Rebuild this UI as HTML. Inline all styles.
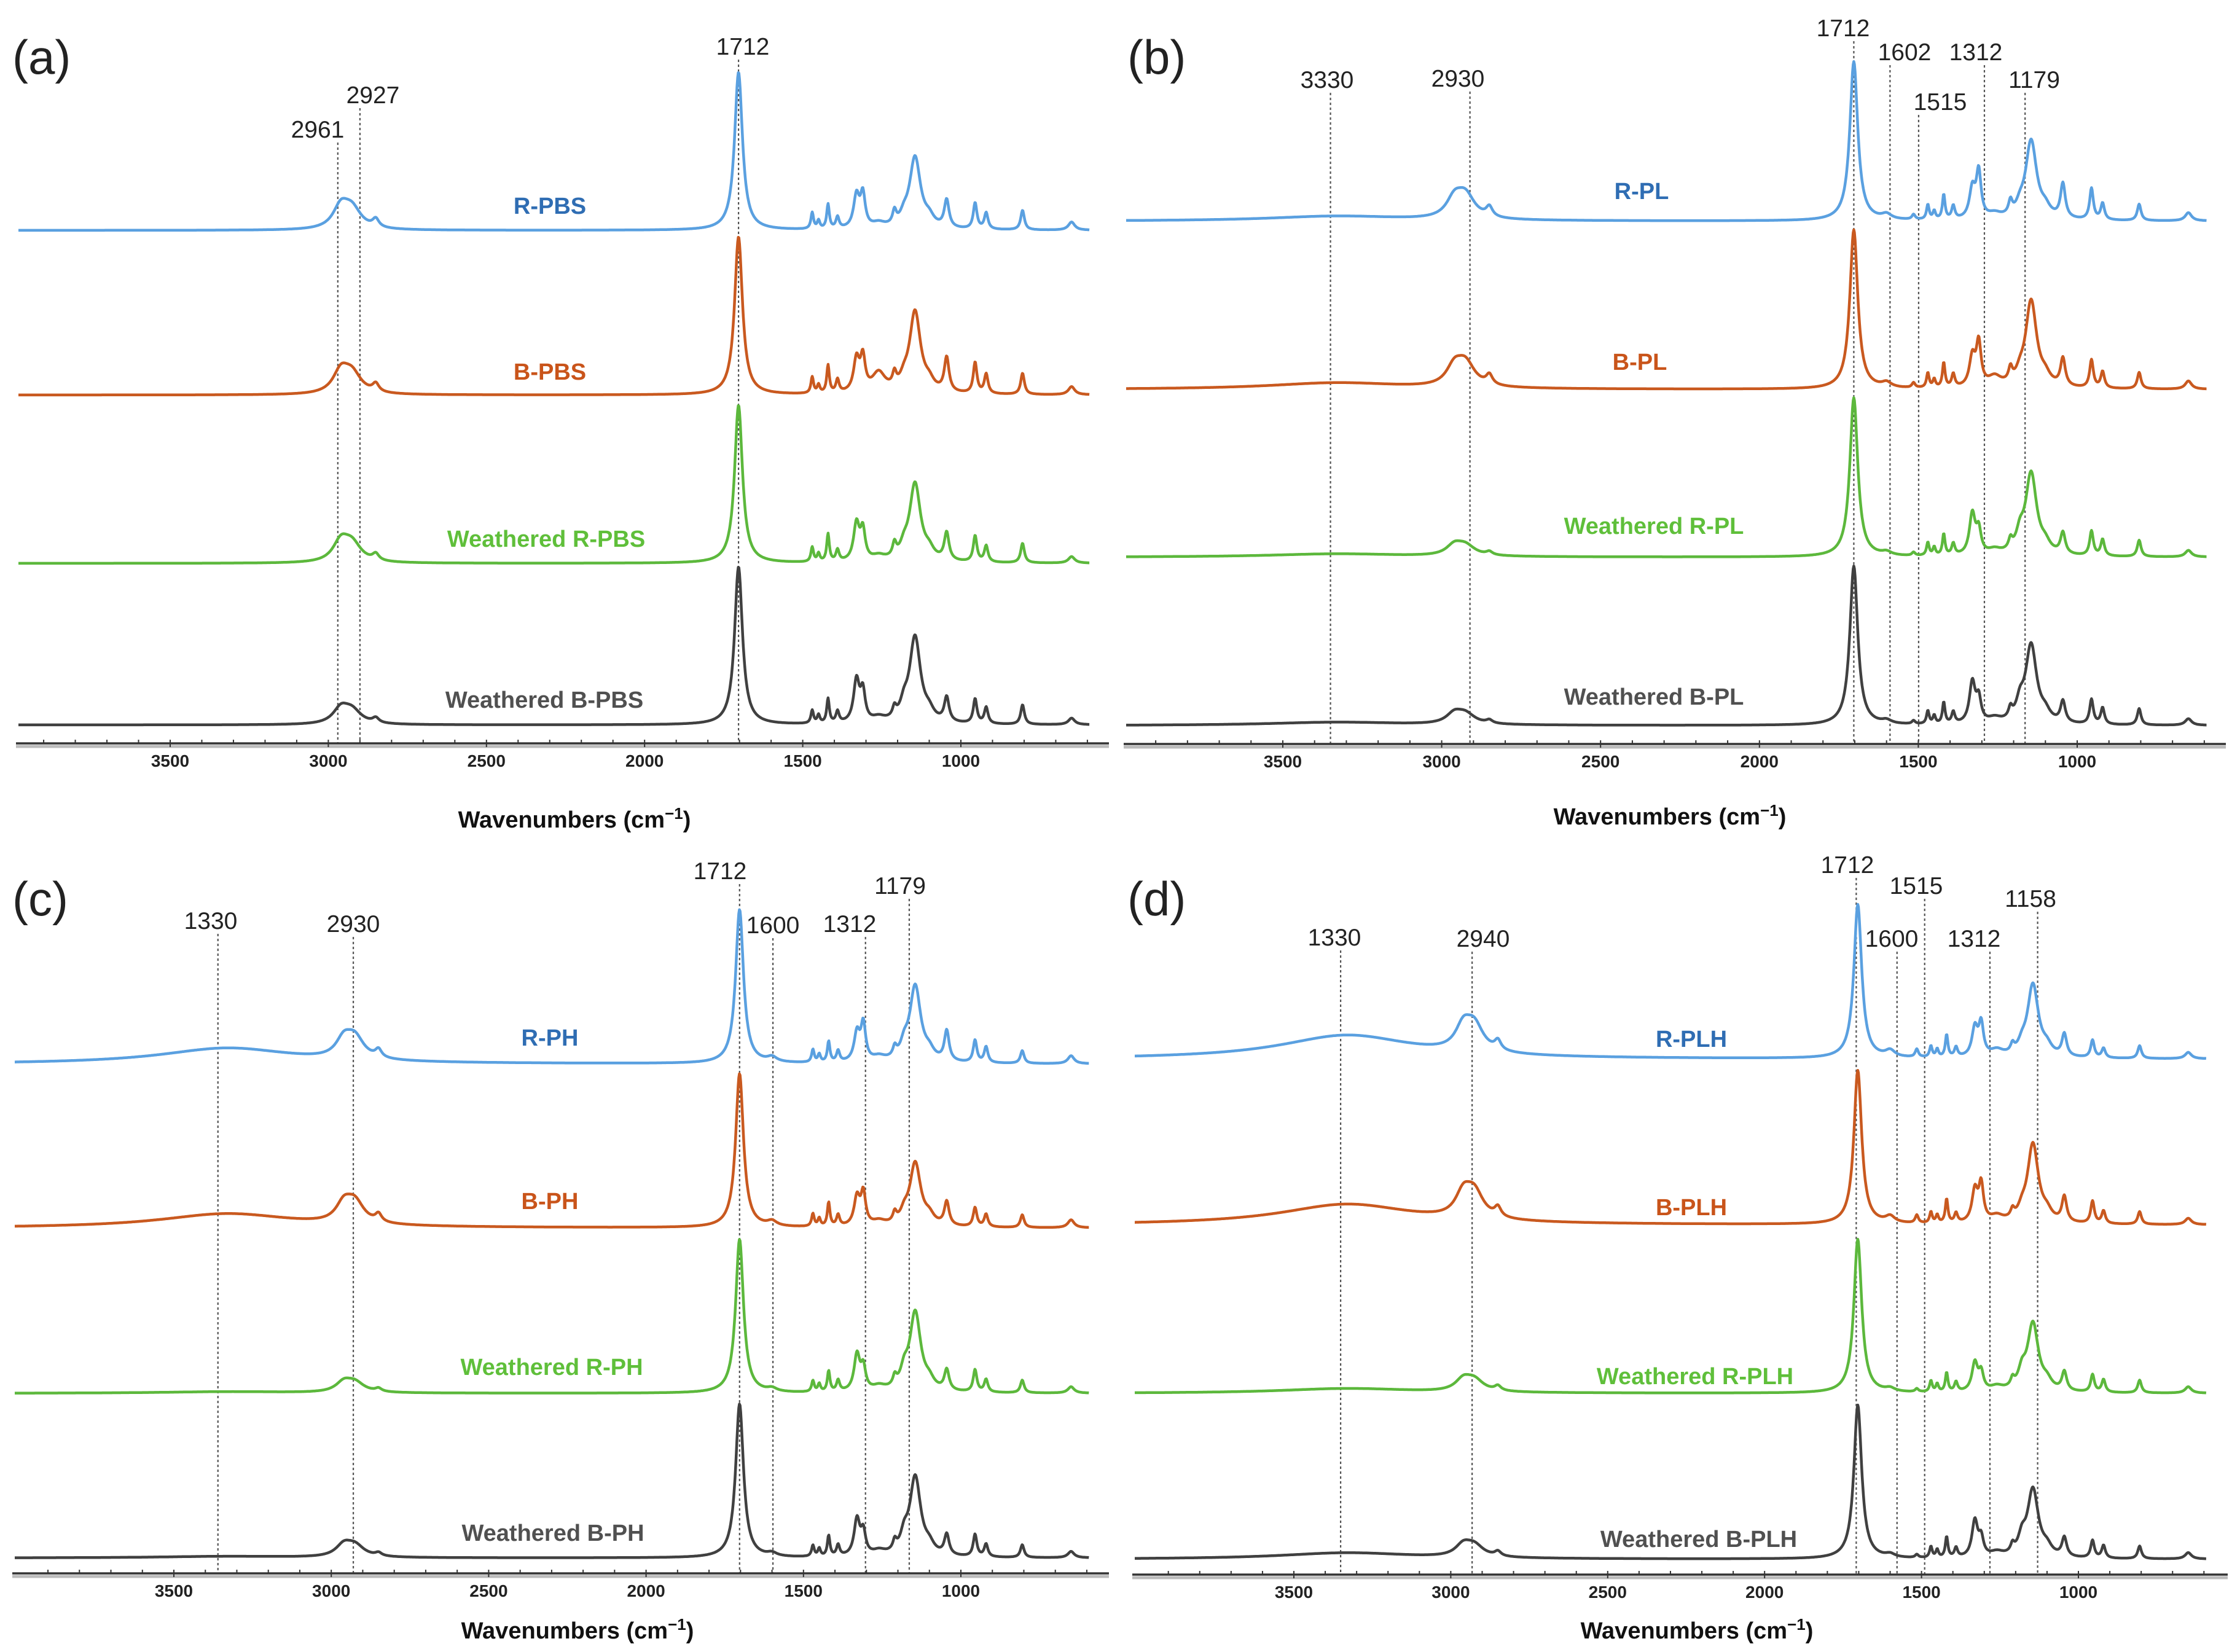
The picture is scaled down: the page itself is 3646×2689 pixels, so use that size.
<!DOCTYPE html>
<html><head><meta charset="utf-8"><title>FTIR spectra</title>
<style>
html,body{margin:0;padding:0;background:#fff;}
svg{display:block;font-family:"Liberation Sans",sans-serif;}
</style></head>
<body>
<svg id="fig" xmlns="http://www.w3.org/2000/svg" width="3646" height="2689" viewBox="0 0 3646 2689">
<rect x="0" y="0" width="3646" height="2689" fill="#fff"/>
</svg>
<script>
// ---- shared band data (wavenumber centers and half-widths) ----
const bandCenters = [3330,2960,2925,2850,1703,1600,1515,1470,1450,1420,1390,1330,1310,1260,1210,1180,1145,1100,1045,955,920,805,650];
const bandWidths  = [260, 30, 35, 12, 15, 18, 6, 5, 5, 5, 6, 11, 9, 25, 7, 14, 21, 18, 9, 7, 7, 7, 12];
const tickValues = [3500,3000,2500,2000,1500,1000];
const tickLabels = ["3500","3000","2500","2000","1500","1000"];

// ---- series amplitudes (relative to carbonyl band = 1) ----
const rPBS  = [0,0.13,0.12,0.05,0.97,0,0,0.1,0.05,0.15,0.07,0.2,0.2,0.03,0.08,0.05,0.44,0.05,0.17,0.16,0.1,0.12,0.05];
const bPBS  = [0,0.13,0.12,0.05,0.97,0,0,0.1,0.05,0.17,0.08,0.2,0.2,0.12,0.08,0.05,0.5,0.05,0.21,0.19,0.12,0.13,0.05];
const wrPBS = [0,0.12,0.11,0.04,0.97,0,0,0.09,0.05,0.17,0.07,0.23,0.18,0.03,0.08,0.06,0.48,0.05,0.17,0.16,0.1,0.12,0.04];
const wbPBS = [0,0.09,0.08,0.03,0.97,0,0,0.08,0.05,0.15,0.07,0.26,0.18,0.03,0.06,0.08,0.53,0.05,0.15,0.15,0.1,0.12,0.04];

const rPL  = [0.03,0.11,0.14,0.06,0.97,0.03,0.03,0.09,0.05,0.15,0.08,0.18,0.28,0.03,0.08,0.05,0.48,0.05,0.21,0.19,0.1,0.1,0.05];
const bPL  = [0.04,0.11,0.14,0.06,0.97,0.03,0.03,0.09,0.05,0.15,0.08,0.18,0.26,0.06,0.08,0.05,0.53,0.05,0.17,0.17,0.1,0.1,0.05];
const wrPL = [0.02,0.06,0.06,0.02,0.97,0.02,0.02,0.08,0.05,0.13,0.07,0.25,0.14,0.03,0.06,0.1,0.5,0.05,0.13,0.15,0.1,0.1,0.04];
const wbPL = [0.02,0.06,0.06,0.02,0.97,0.02,0.02,0.08,0.05,0.13,0.07,0.25,0.14,0.03,0.06,0.1,0.48,0.05,0.13,0.15,0.1,0.1,0.04];

const rPH  = [0.1,0.11,0.13,0.05,0.97,0.03,0,0.08,0.05,0.13,0.07,0.18,0.23,0.03,0.06,0.08,0.48,0.05,0.19,0.14,0.1,0.08,0.05];
const bPH  = [0.09,0.11,0.13,0.05,0.97,0.03,0,0.08,0.05,0.15,0.07,0.18,0.2,0.03,0.06,0.06,0.4,0.05,0.15,0.12,0.08,0.08,0.05];
const wrPH = [0.01,0.06,0.06,0.02,0.97,0.02,0,0.07,0.05,0.13,0.07,0.23,0.14,0.03,0.06,0.1,0.5,0.05,0.13,0.14,0.08,0.08,0.04];
const wbPH = [0.01,0.07,0.07,0.02,0.97,0.02,0,0.07,0.05,0.13,0.07,0.23,0.14,0.03,0.06,0.1,0.5,0.05,0.13,0.14,0.08,0.08,0.04];

const rPLH  = [0.15,0.14,0.16,0.06,0.97,0.04,0.05,0.07,0.05,0.14,0.06,0.18,0.2,0.04,0.05,0.05,0.46,0.05,0.14,0.11,0.06,0.08,0.04];
const bPLH  = [0.13,0.14,0.16,0.06,0.97,0.04,0.05,0.07,0.05,0.15,0.06,0.2,0.23,0.04,0.05,0.05,0.5,0.05,0.16,0.14,0.08,0.08,0.04];
const wrPLH = [0.03,0.07,0.07,0.03,0.97,0.02,0.02,0.07,0.05,0.12,0.06,0.18,0.11,0.03,0.05,0.1,0.43,0.05,0.12,0.11,0.08,0.08,0.04];
const wbPLH = [0.04,0.07,0.07,0.03,0.97,0.02,0.02,0.07,0.05,0.13,0.06,0.23,0.11,0.03,0.05,0.1,0.43,0.05,0.12,0.11,0.08,0.08,0.04];

// ---- annotation data ----
const annA = ["2961","2927","1712"];  const annAW = [2970,2900,1703];
const annB = ["3330","2930","1712","1602","1515","1312","1179"]; const annBW = [3350,2911,1703,1589,1499,1292,1164];
const annC = ["1330","2930","1712","1600","1312","1179"]; const annCW = [3360,2930,1703,1597,1303,1164];
const annD = ["1330","2940","1712","1600","1515","1312","1158"]; const annDW = [3351,2932,1708,1578,1490,1282,1130];

const seriesColors = ["#5aa0e0","#c9591f","#5cb83c","#404040"];
const labelColors  = ["#2f6db3","#c9541a","#5fbf3a","#505050"];

const NS = "http://www.w3.org/2000/svg";
const svg = document.getElementById("fig");
function mk(tag, attrs, parent){ const e=document.createElementNS(NS,tag); for(const k in attrs) e.setAttribute(k,attrs[k]); (parent||svg).appendChild(e); return e; }

const panels = [
 {id:"a", letter:"(a)", lx:20, ly:120, x3500:277, x1000:1564, axisY:1210, ax0:26, ax1:1805, titleX:935, titleY:1333, scale:265,
  bases:[375,643,917,1180], series:[rPBS,bPBS,wrPBS,wbPBS], names:["R-PBS","B-PBS","Weathered R-PBS","Weathered B-PBS"],
  labX:[895,895,889,886], labY:[334,604,876,1138], ann:annA, annW:annAW, annX:[517,607,1209], annY:[210,154,75]},
 {id:"b", letter:"(b)", lx:1835, ly:120, x3500:2088, x1000:3381, axisY:1211, ax0:1829, ax1:3623, titleX:2718, titleY:1328, scale:267,
  bases:[360,634,907,1181], series:[rPL,bPL,wrPL,wbPL], names:["R-PL","B-PL","Weathered R-PL","Weathered B-PL"],
  labX:[2672,2669,2692,2692], labY:[310,588,855,1133], ann:annB, annW:annBW, annX:[2160,2373,3000,3100,3158,3216,3311], annY:[129,127,45,84,165,84,129]},
 {id:"c", letter:"(c)", lx:20, ly:1490, x3500:283, x1000:1564, axisY:2561, ax0:20, ax1:1805, titleX:940, titleY:2653, scale:258,
  bases:[1732,1999,2268,2536], series:[rPH,bPH,wrPH,wbPH], names:["R-PH","B-PH","Weathered R-PH","Weathered B-PH"],
  labX:[895,895,898,900], labY:[1688,1954,2224,2494], ann:annC, annW:annCW, annX:[343,575,1172,1258,1383,1465], annY:[1498,1503,1417,1505,1503,1441]},
 {id:"d", letter:"(d)", lx:1835, ly:1490, x3500:2106, x1000:3383, axisY:2563, ax0:1843, ax1:3626, titleX:2762, titleY:2653, scale:258,
  bases:[1724,1994,2268,2538], series:[rPLH,bPLH,wrPLH,wbPLH], names:["R-PLH","B-PLH","Weathered R-PLH","Weathered B-PLH"],
  labX:[2753,2753,2759,2765], labY:[1690,1964,2239,2504], ann:annD, annW:annDW, annX:[2172,2414,3007,3079,3119,3213,3305], annY:[1525,1527,1407,1527,1441,1527,1462]}
];

function spectrum(amps, w){
  let s=0;
  for(let i=0;i<bandCenters.length;i++){
    const d=(w-bandCenters[i])/bandWidths[i];
    s+=amps[i]/(1+d*d);
  }
  return s;
}

panels.forEach(p=>{
  const g = mk("g",{});
  
  
  const k = (p.x1000-p.x3500)/2500;
  const xs = w => p.x3500 + (3500-w)*k;
  const wStart = 3500 + (p.x3500-(p.ax0+4))/k;

  const L = mk("text",{x:p.lx,y:p.ly,"font-size":78,fill:"#222"},g);
  L.textContent=p.letter;
  
  

  p.ann.forEach((t,i)=>{
    const x=xs(p.annW[i]);
    const ln=mk("line",{x1:x,x2:x,y1:p.annY[i]+22,y2:p.axisY,stroke:"#555","stroke-width":2.2,"stroke-dasharray":"4 4"},g);
    
    
    const tx=mk("text",{x:p.annX[i],y:p.annY[i]+14,"text-anchor":"middle","font-size":39,fill:"#222"},g);
    tx.textContent=t;
    
    
  });

  p.series.forEach((amps,si)=>{
    let d="";
    for(let w=wStart; w>=592; w-=2){
      const y=p.bases[si]-spectrum(amps,w)*p.scale;
      d+=(d?"L":"M")+xs(w).toFixed(1)+","+y.toFixed(1);
    }
    const path=mk("path",{d:d,fill:"none",stroke:seriesColors[si],"stroke-width":4.5,"stroke-linejoin":"round"},g);
    
    
    const lt=mk("text",{x:p.labX[si],y:p.labY[si]+14,"text-anchor":"middle","font-size":38,"font-weight":"bold",fill:labelColors[si]},g);
    lt.textContent=p.names[si];
    
    
  });

  mk("line",{x1:p.ax0,x2:p.ax1,y1:p.axisY+5,y2:p.axisY+5,stroke:"#bbb","stroke-width":5},g);
  const ax=mk("line",{x1:p.ax0,x2:p.ax1,y1:p.axisY,y2:p.axisY,stroke:"#333","stroke-width":3.5},g);
  
  
  for(let w=3900; w>=600; w-=100){
    const x=xs(w); if(x<p.ax0||x>p.ax1) continue;
    const major = w%500===0;
    mk("line",{x1:x,x2:x,y1:p.axisY-6,y2:p.axisY+(major?6:0),stroke:"#333","stroke-width":2},g);
  }
  tickValues.forEach((v,i)=>{
    const t=mk("text",{x:xs(v),y:p.axisY+38,"text-anchor":"middle","font-size":28,"font-weight":"bold",fill:"#222"},g);
    t.textContent=tickLabels[i];
    
    
  });
  const tt=mk("text",{x:p.titleX,y:p.titleY+14,"text-anchor":"middle","font-size":38,"font-weight":"bold",fill:"#111"},g);
  tt.innerHTML='Wavenumbers (cm<tspan dy="-14" font-size="26">−1</tspan><tspan dy="14">)</tspan>';
  
  
});
</script>
</body></html>
